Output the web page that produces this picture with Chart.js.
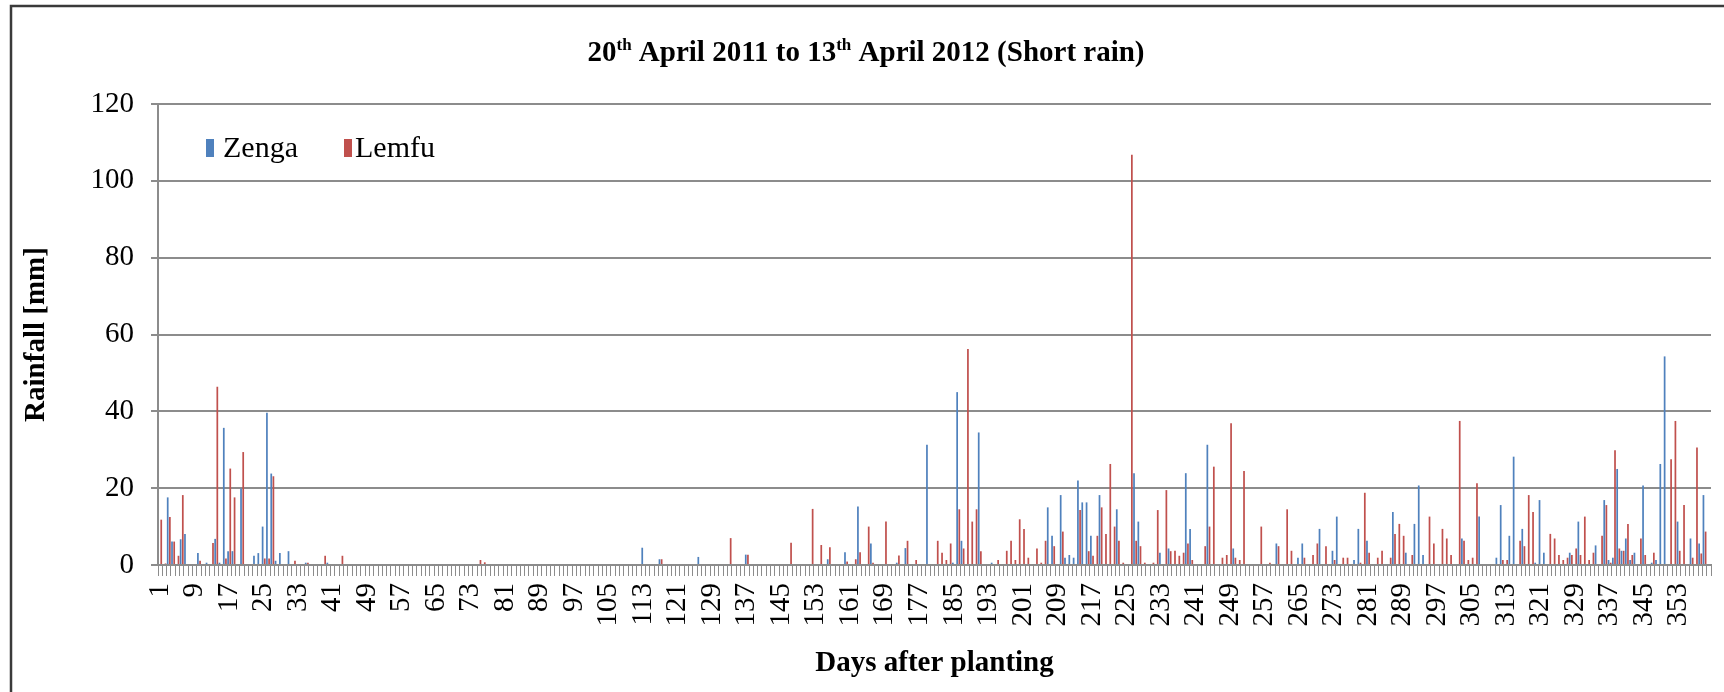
<!DOCTYPE html>
<html><head><meta charset="utf-8">
<script src="https://cdn.jsdelivr.net/npm/chart.js@4.4.1/dist/chart.umd.min.js"></script>
<style>html,body{margin:0;padding:0;background:#fff;}#wrap{width:1724px;height:692px;position:relative;}</style>
</head><body><div id="wrap"><canvas id="c" width="1724" height="692"></canvas></div>
<script>
// ---- data ----
const days = [];
for (let d = 1; d <= 360; d++) days.push(String(d));

const xTickLabels = ['1','9','17','25','33','41','49','57','65','73','81','89','97','105','113','121','129','137','145','153','161','169','177','185','193','201','209','217','225','233','241','249','257','265','273','281','289','297','305','313','321','329','337','345','353'];
const yTicks = [0, 20, 40, 60, 80, 100, 120];

const zenga = [
0,0,17.6,6.1,0,6.7,8.1,0,0,3.1,0,0.6,0,6.8,0.6,35.7,3.6,3.6,0,19.9,
0,0,2.4,3.1,10.0,39.6,23.8,1.1,3.1,0,3.6,0,0,0,0.6,0,0,0,0,0.6,
0,0,0,0,0,0,0,0,0,0,0,0,0,0,0,0,0,0,0,0,
0,0,0,0,0,0,0,0,0,0,0,0,0,0,0,0,0,0,0,0,
0,0,0,0,0,0,0,0,0,0,0,0,0,0,0,0,0,0,0,0,
0,0,0,0,0,0,0,0,0,0,0,0,4.5,0,0,0,1.5,0,0,0,
0,0,0,0,0,2.1,0,0,0,0,0,0,0,0,0,0,2.7,0,0,0,
0,0,0,0,0,0,0,0,0,0,0,0,0,0,0,1.5,0,0,0,3.3,
0,0,15.2,0,0,5.6,0,0,0,0,0,0.6,0,4.4,0,0,0,0,31.3,0,
0,0,0,0,0.6,45.0,6.3,0,0,0,34.5,0,0,0.6,0,0,0,0,0,0,
0,0,0,0,0,0,15.0,7.6,0,18.2,1.9,2.6,1.9,22.0,16.3,16.3,7.6,0,18.2,0,
0,0,14.5,0,0,0,23.9,11.3,0,0,0,0,3.2,0,4.3,0,0,0,23.9,9.4,
0,0,0,31.3,0,0,0,0,0,4.3,0,0,0,0,0,0,0,0,0,5.6,
0,0,0,0,1.9,5.6,0,0,0,9.4,0,0,3.7,12.6,0,0,0,1.3,9.4,0,
6.3,0,0,0,0,0,13.8,0,0,3.2,0,10.7,20.7,2.6,0,0,0,0,0,0,
0,0,6.9,0,0,0,12.6,0,0,0,1.9,15.6,0,7.6,28.2,0,9.4,0,0,0.6,
16.9,3.2,0,0,0,0,0,3.2,0,11.3,0,0,0,5.1,0,16.9,1.3,1.9,25.0,3.7,
6.9,1.3,3.2,0,20.7,0,0.6,1.3,26.3,54.3,0,0,11.3,0,0,6.9,0,5.6,18.2,0
];

const lemfu = [
11.8,0.4,12.5,6.1,2.4,18.2,0,0,0,1.1,0,0,5.7,46.4,0,1.7,25.1,17.6,0,29.4,
0,0,0,0,1.7,1.7,23.1,0,0,0,0,1.1,0,0,0.6,0,0,0,2.4,0,
0,0,2.4,0,0,0,0,0,0,0,0,0,0,0,0,0,0,0,0,0,
0,0,0,0,0,0,0,0,0,0,0,0,0,0,1.3,0.7,0,0,0,0,
0,0,0,0,0,0,0,0,0,0,0,0,0,0,0,0,0,0,0,0,
0,0,0,0,0,0,0,0,0,0,0,0,0,0,0,0,1.5,0,0,0,
0,0,0,0,0,0,0,0,0,0,0,0,7.0,0,0,0,2.7,0,0,0,
0,0,0,0,0,0,5.8,0,0,0,0,14.6,0,5.2,0,4.6,0,0,0,0.9,
0,1.5,3.3,0,10.0,0.6,0,0,11.3,0,0,2.5,0,6.3,0,1.3,0,0,0,0,
6.3,3.2,1.3,5.6,0,14.5,4.3,56.2,11.3,14.5,3.6,0,0,0,1.3,0,3.7,6.3,1.3,11.9,
9.4,1.9,0,4.3,0.6,6.3,0,4.9,0,8.7,0,0,0,14.3,0,3.6,2.4,7.6,15.0,8.1,
26.3,10.0,6.3,0.6,0,106.8,6.3,4.9,0.6,0,0.6,14.3,0,19.5,3.6,3.7,2.4,3.2,5.6,1.3,
0,0,4.9,10.0,25.6,0,1.9,2.6,36.9,1.9,1.3,24.5,0,0,0,10.0,0,0.6,0,4.9,
0,14.5,3.7,0,0,1.9,0,2.6,5.6,0,4.9,0,1.3,0,1.9,1.9,0,0,0.6,18.8,
3.2,0,1.9,3.7,0,1.9,8.1,10.7,7.6,0,2.6,0,0,0,12.6,5.6,0,9.4,6.9,2.6,
0,37.5,6.3,1.3,1.9,21.3,0,0,0,0,0,1.3,1.3,0,0,6.3,4.9,18.2,13.8,0,
0,0,8.1,6.9,2.6,1.3,1.9,2.6,4.3,2.6,12.6,1.3,3.2,0,7.6,15.6,0.6,29.9,4.3,3.7,
10.7,2.6,0,6.9,2.6,0,3.2,0,0,0,27.5,37.5,3.7,15.6,0,1.9,30.6,3.0,8.7,0
];

const seriesNames = ['Zenga', 'Lemfu'];
const seriesColors = ['#4F81BD', '#C0504D'];
const titleParts = [['20', false], ['th', true], [' April 2011 to 13', false], ['th', true], [' April 2012 (Short rain)', false]];
const xAxisTitle = 'Days after planting';
const yAxisTitle = 'Rainfall [mm]';

// ---- drawing ----
const SERIF = '"Liberation Serif", "Times New Roman", serif';
const tickSet = new Set(xTickLabels);

const decorPlugin = {
  id: 'decor',
  beforeDraw(chart) {
    const ctx = chart.ctx;
    ctx.save();
    ctx.fillStyle = '#fff';
    ctx.fillRect(0, 0, chart.width, chart.height);
    ctx.strokeStyle = '#3a3a3a';
    ctx.lineWidth = 2.5;
    ctx.beginPath();
    ctx.moveTo(11, 692); ctx.lineTo(11, 6); ctx.lineTo(1724, 6);
    ctx.stroke();
    ctx.restore();
  },
  afterDraw(chart) {
    const ctx = chart.ctx;
    ctx.save();
    // title with superscripts
    const big = 'bold 29px ' + SERIF, small = 'bold 17px ' + SERIF;
    let total = 0;
    titleParts.forEach(([t, sup]) => { ctx.font = sup ? small : big; total += ctx.measureText(t).width; });
    let x = 866 - total / 2;
    const base = 61;
    ctx.fillStyle = '#000';
    ctx.textBaseline = 'alphabetic';
    ctx.textAlign = 'left';
    titleParts.forEach(([t, sup]) => {
      ctx.font = sup ? small : big;
      ctx.fillText(t, x, sup ? base - 11 : base);
      x += ctx.measureText(t).width;
    });
    // legend
    const items = [{x: 206, tx: 223}, {x: 344, tx: 355}];
    ctx.font = '30px ' + SERIF;
    items.forEach((it, i) => {
      ctx.fillStyle = seriesColors[i];
      ctx.fillRect(it.x, 139, 8, 18);
      ctx.fillStyle = '#000';
      ctx.fillText(seriesNames[i], it.tx, 157);
    });
    ctx.restore();
  }
};

new Chart(document.getElementById('c'), {
  type: 'bar',
  data: {
    labels: days,
    datasets: [
      {label: seriesNames[0], data: zenga, backgroundColor: seriesColors[0], borderWidth: 0, categoryPercentage: 1.0, barPercentage: 0.8},
      {label: seriesNames[1], data: lemfu, backgroundColor: seriesColors[1], borderWidth: 0, categoryPercentage: 1.0, barPercentage: 0.8}
    ]
  },
  options: {
    responsive: false,
    animation: false,
    layout: {padding: {left: 0, right: 13, top: 104, bottom: 0}},
    plugins: {legend: {display: false}, title: {display: false}, tooltip: {enabled: false}},
    scales: {
      x: {
        offset: true,
        grid: {display: true, drawOnChartArea: false, drawTicks: true, tickLength: 11, color: '#8c8c8c', lineWidth: 1, offset: true},
        border: {display: true, color: '#8c8c8c', width: 2},
        ticks: {
          autoSkip: false, minRotation: 90, maxRotation: 90, padding: 7, color: '#000',
          font: {family: SERIF, size: 29},
          callback: function (v, i) { return tickSet.has(days[i]) ? days[i] : ''; }
        },
        title: {display: true, text: xAxisTitle, color: '#000', font: {family: SERIF, size: 29, weight: 'bold'}, padding: {top: 0, bottom: 11}},
        afterFit: s => { s.height = 127; s.paddingLeft = 0; s.paddingRight = 0; }
      },
      y: {
        min: 0, max: 120,
        afterBuildTicks: s => { s.ticks = yTicks.map(v => ({value: v})); },
        grid: {color: '#8c8c8c', lineWidth: 2, tickLength: 7, drawTicks: true},
        border: {display: true, color: '#8c8c8c', width: 2},
        ticks: {padding: 17, color: '#000', font: {family: SERIF, size: 29}},
        title: {display: true, text: yAxisTitle, color: '#000', font: {family: SERIF, size: 29, weight: 'bold'}, padding: {top: 19, bottom: 0}},
        afterFit: s => { s.width = 158; }
      }
    }
  },
  plugins: [decorPlugin]
});
</script>
</body></html>
